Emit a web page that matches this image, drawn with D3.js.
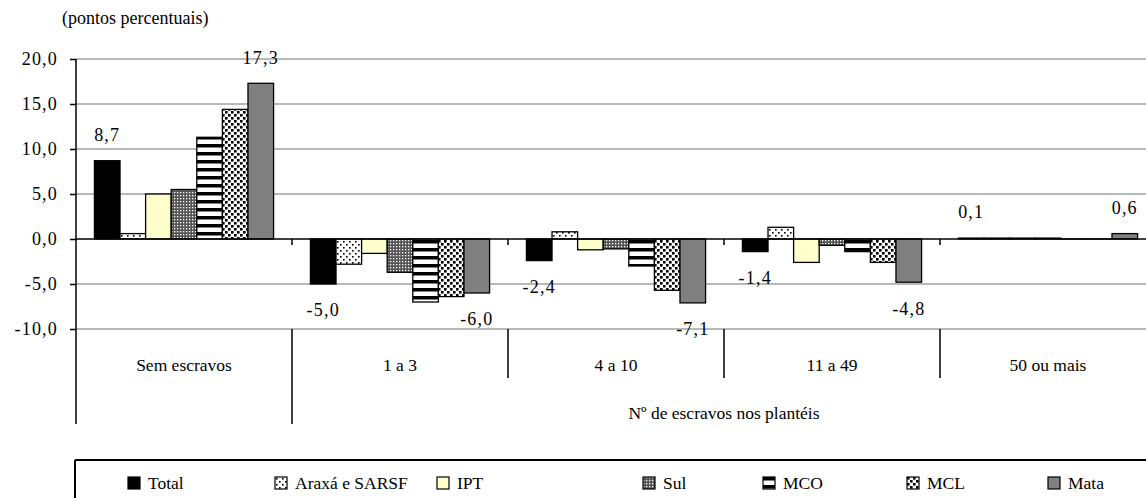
<!DOCTYPE html>
<html><head><meta charset="utf-8">
<script src="https://cdn.jsdelivr.net/npm/d3@7"></script>
<style>
html,body{margin:0;padding:0;background:#fff;}
</style></head>
<body>
<svg id="chart" width="1146" height="498"></svg>
<script>
const categories = ["Sem escravos","1 a 3","4 a 10","11 a 49","50 ou mais"];
const series = ["Total","Araxá e SARSF","IPT","Sul","MCO","MCL","Mata"];
const total = [8.7,-5.0,-2.4,-1.4,0.1];
const araxa = [0.6,-2.8,0.8,1.3,0.1];
const ipt   = [5.0,-1.6,-1.2,-2.6,0.1];
const sul   = [5.5,-3.7,-1.1,-0.7,0.1];
const mco   = [11.3,-7.0,-3.0,-1.4,0.0];
const mcl   = [14.4,-6.4,-5.7,-2.6,0.0];
const mata  = [17.3,-6.0,-7.1,-4.8,0.6];
const yTicks = [-10,-5,0,5,10,15,20];
const unitLabel = "(pontos percentuais)";
const axisTitle = "Nº de escravos nos plantéis";
const labeledSeries = ["Total","Mata"];

const values = [total,araxa,ipt,sul,mco,mcl,mata];
const fills = ["#000","url(#pAraxa)","#ffffcc","url(#pSul)","url(#pMco)","url(#pMcl)","#808080"];
const FONT = "Liberation Serif, Times New Roman, serif";
const FS = 17.5, NFS = 18;
const fmt = v => d3.format(".1f")(v).replace(".",",").replace("−","-");

const svg = d3.select("#chart").attr("font-family", FONT);
const defs = svg.append("defs");
{
  let p = defs.append("pattern").attr("id","pAraxa").attr("patternUnits","userSpaceOnUse").attr("width",6).attr("height",6);
  p.append("rect").attr("width",6).attr("height",6).attr("fill","#fff");
  p.append("rect").attr("x",1).attr("y",1).attr("width",1.6).attr("height",1.6).attr("fill","#000");
  p.append("rect").attr("x",4).attr("y",4).attr("width",1.6).attr("height",1.6).attr("fill","#000");
  p = defs.append("pattern").attr("id","pSul").attr("patternUnits","userSpaceOnUse").attr("width",3).attr("height",3);
  p.append("rect").attr("width",3).attr("height",3).attr("fill","#555");
  p.append("rect").attr("x",0).attr("y",0).attr("width",1.3).attr("height",1.3).attr("fill","#fff");
  p = defs.append("pattern").attr("id","pMco").attr("patternUnits","userSpaceOnUse").attr("width",8).attr("height",8);
  p.append("rect").attr("width",8).attr("height",8).attr("fill","#fff");
  p.append("rect").attr("y",0).attr("width",8).attr("height",3.5).attr("fill","#000");
  p = defs.append("pattern").attr("id","pMcl").attr("patternUnits","userSpaceOnUse").attr("width",6).attr("height",6);
  p.append("rect").attr("width",6).attr("height",6).attr("fill","#fff");
  p.append("rect").attr("x",0).attr("y",0).attr("width",2.6).attr("height",2.6).attr("fill","#000");
  p.append("rect").attr("x",3).attr("y",3).attr("width",2.6).attr("height",2.6).attr("fill","#000");
}

const left = 76, groupW = 216;
const x0 = d3.scaleBand().domain(categories).range([left, left + groupW*categories.length]);
const x1 = d3.scaleBand().domain(series).range([0, x0.bandwidth()]).paddingOuter(0.72);
const y = d3.scaleLinear().domain([-10,20]).range([329,59]);

svg.append("g").selectAll("line").data(yTicks.filter(t=>t!==0)).join("line")
  .attr("x1",left).attr("x2",1146).attr("y1",d=>y(d)).attr("y2",d=>y(d))
  .attr("stroke","#a0a0a0").attr("stroke-width",1.5);

const g = svg.append("g");
categories.forEach((c,ci)=>{
  series.forEach((s,si)=>{
    const v = values[si][ci];
    g.append("rect")
      .attr("x", x0(c)+x1(s)).attr("width", x1.bandwidth())
      .attr("y", y(Math.max(0,v))).attr("height", Math.max(Math.abs(y(v)-y(0)),0.01))
      .attr("fill", fills[si]).attr("stroke","#000").attr("stroke-width",1.3);
  });
});

svg.append("line").attr("x1",left).attr("x2",1146).attr("y1",y(0)).attr("y2",y(0)).attr("stroke","#000").attr("stroke-width",1.5);
svg.append("g").selectAll("line").data(categories.slice(1)).join("line")
  .attr("x1",d=>x0(d)).attr("x2",d=>x0(d)).attr("y1",y(0)).attr("y2",y(0)+6)
  .attr("stroke","#000").attr("stroke-width",1.5);

const yAxis = d3.axisLeft(y).tickValues(yTicks).tickSize(6).tickFormat(fmt);
const ya = svg.append("g").attr("transform",`translate(${left},0)`).call(yAxis).attr("font-family",FONT).attr("font-size",NFS);
ya.select(".domain").remove();
ya.selectAll(".tick line").attr("stroke","#000").attr("stroke-width",1.5);
ya.selectAll(".tick text").attr("fill","#000").attr("x",-18).attr("letter-spacing",1.2).attr("dy","0.33em");
svg.append("line").attr("x1",left).attr("x2",left).attr("y1",59).attr("y2",424).attr("stroke","#000").attr("stroke-width",1.5);

svg.append("g").selectAll("line").data(categories.slice(1)).join("line")
  .attr("x1",d=>x0(d)).attr("x2",d=>x0(d)).attr("y1",y(-10)).attr("y2",(d,i)=>i===0?424:378)
  .attr("stroke","#000").attr("stroke-width",1.5);

svg.append("g").selectAll("text").data(categories).join("text")
  .attr("x",d=>x0(d)+x0.bandwidth()/2).attr("y",371).attr("text-anchor","middle")
  .attr("font-size",FS).attr("fill","#000").text(d=>d);
svg.append("text").attr("x",(x0(categories[1])+x0.range()[1])/2).attr("y",419).attr("text-anchor","middle")
  .attr("font-size",FS).attr("fill","#000").text(axisTitle);

svg.append("text").attr("x",62).attr("y",24).attr("font-size",18).attr("fill","#000").text(unitLabel);

labeledSeries.forEach(s=>{
  const si = series.indexOf(s);
  categories.forEach((c,ci)=>{
    const v = values[si][ci];
    svg.append("text")
      .attr("x", x0(c)+x1(s)+x1.bandwidth()/2)
      .attr("y", v>=0 ? y(v)-26 : y(v)+26).attr("dy","0.35em")
      .attr("text-anchor","middle").attr("font-size",NFS).attr("letter-spacing",1.2).attr("fill","#000")
      .text(fmt(v));
  });
});

const legendX = [128,275,437,643,763,907,1048];
svg.append("line").attr("x1",75).attr("x2",1146).attr("y1",460).attr("y2",460).attr("stroke","#000").attr("stroke-width",2);
svg.append("line").attr("x1",75).attr("x2",75).attr("y1",460).attr("y2",498).attr("stroke","#000").attr("stroke-width",2);
const lg = svg.append("g").selectAll("g").data(series).join("g")
  .attr("transform",(d,i)=>`translate(${legendX[i]},477)`);
lg.append("rect").attr("width",12).attr("height",12).attr("fill",(d,i)=>fills[i]).attr("stroke","#000").attr("stroke-width",1.2);
lg.append("text").attr("x",20).attr("y",6).attr("dy","0.35em").attr("font-size",FS).attr("fill","#000").text(d=>d);
</script>
</body></html>
